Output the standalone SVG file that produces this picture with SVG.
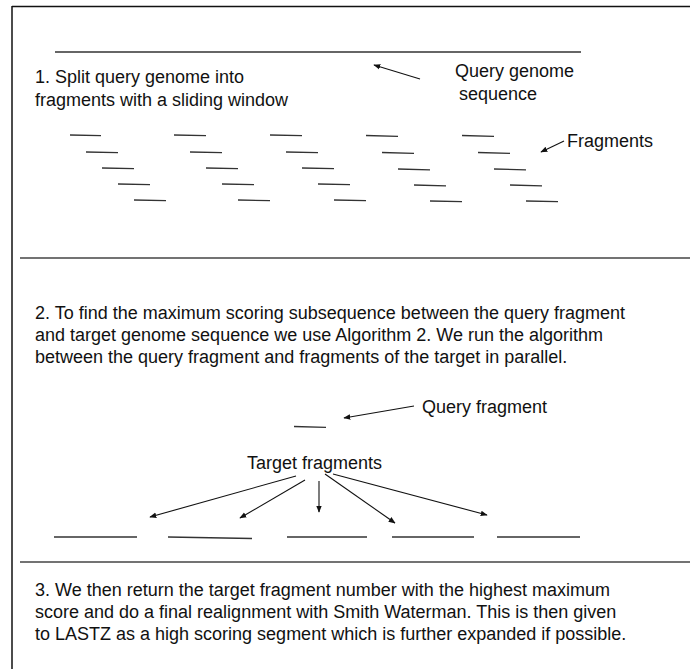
<svg xmlns="http://www.w3.org/2000/svg" width="690" height="669" viewBox="0 0 690 669">
<style>
  .t { font-family: "Liberation Sans", Arial, sans-serif; font-size: 18px; fill: #111; }
  .frame { stroke: #111; stroke-width: 1.5; fill: none; }
  .sep { stroke: #444; stroke-width: 1.5; fill: none; }
  .seg { stroke: #333; stroke-width: 1.3; fill: none; }
  .arr { stroke: #111; stroke-width: 1.1; fill: none; marker-end: url(#ah); }
</style>
<defs>
  <marker id="ah" viewBox="0 0 10 10" refX="9" refY="5" markerWidth="7" markerHeight="7" orient="auto" markerUnits="userSpaceOnUse">
    <path d="M0,1 L10,5 L0,9 z" fill="#111"/>
  </marker>
</defs>
<rect width="690" height="669" fill="#fff"/>
<g id="frame">
  <line class="frame" x1="12" y1="6.5" x2="690" y2="6.5"/>
  <line class="frame" x1="12" y1="6" x2="12" y2="669"/>
  <line class="sep" x1="20" y1="258" x2="690" y2="258"/>
  <line class="sep" x1="20" y1="562" x2="690" y2="562"/>
</g>
<g id="step1">
  <text class="t" x="35" y="83">1. Split query genome into</text>
  <text class="t" x="35" y="106">fragments with a sliding window</text>
</g>
<g id="query-genome">
  <line class="seg" x1="55" y1="52" x2="581" y2="52"/>
  <text class="t" x="455" y="77">Query genome</text>
  <text class="t" x="459" y="100">sequence</text>
</g>
<g id="fragments">
  <g class="seg">
    <line x1="70" y1="135" x2="101" y2="135.6"/><line x1="86" y1="152" x2="118" y2="152.6"/><line x1="102" y1="168" x2="134" y2="168.6"/><line x1="118" y1="184" x2="150" y2="184.6"/><line x1="134" y1="200" x2="166" y2="200.6"/>
    <line x1="174" y1="135" x2="206" y2="135.6"/><line x1="190" y1="152" x2="222" y2="152.6"/><line x1="206" y1="168" x2="238" y2="168.6"/><line x1="222" y1="184" x2="254" y2="184.6"/><line x1="238" y1="200" x2="270" y2="200.6"/>
    <line x1="270" y1="135" x2="302" y2="135.6"/><line x1="286" y1="152" x2="318" y2="152.6"/><line x1="302" y1="168" x2="334" y2="168.6"/><line x1="318" y1="184" x2="350" y2="184.6"/><line x1="334" y1="200" x2="366" y2="200.6"/>
    <line x1="366" y1="135.5" x2="398" y2="136.3"/><line x1="382" y1="152.5" x2="414" y2="153.3"/><line x1="398" y1="169" x2="430" y2="169.8"/><line x1="414" y1="185" x2="446" y2="185.8"/><line x1="430" y1="201" x2="462" y2="201.6"/>
    <line x1="462" y1="135.5" x2="494" y2="136.3"/><line x1="478" y1="152.5" x2="510" y2="153.3"/><line x1="494" y1="169" x2="526" y2="169.8"/><line x1="510" y1="185" x2="542" y2="185.8"/><line x1="526" y1="201" x2="558" y2="201.6"/>
  </g>
  <text class="t" x="567" y="147">Fragments</text>
</g>
<g id="step2">
  <text class="t" x="35" y="319">2. To find the maximum scoring subsequence between the query fragment</text>
  <text class="t" x="35" y="341">and target genome sequence we use Algorithm 2. We run the algorithm</text>
  <text class="t" x="35" y="363">between the query fragment and fragments of the target in parallel.</text>
</g>
<g id="query-fragment">
  <line class="seg" x1="294" y1="426.5" x2="326" y2="427.3"/>
  <text class="t" x="422" y="413">Query fragment</text>
</g>
<g id="target-fragments">
  <text class="t" x="247" y="469">Target fragments</text>
  <g class="seg">
    <line x1="54" y1="537" x2="137" y2="537"/>
    <line x1="168" y1="537" x2="252" y2="538.5"/>
    <line x1="287" y1="537" x2="367" y2="537"/>
    <line x1="392" y1="537" x2="474" y2="537"/>
    <line x1="497" y1="537" x2="580" y2="537"/>
  </g>
</g>
<g id="step3">
  <text class="t" x="35" y="596">3. We then return the target fragment number with the highest maximum</text>
  <text class="t" x="35" y="618">score and do a final realignment with Smith Waterman. This is then given</text>
  <text class="t" x="35" y="640">to LASTZ as a high scoring segment which is further expanded if possible.</text>
</g>
<g id="connectors">
  <line class="arr" x1="420" y1="79" x2="374" y2="65"/>
  <line class="arr" x1="564" y1="141" x2="541" y2="152"/>
  <line class="arr" x1="414" y1="406" x2="344" y2="418"/>
  <line class="arr" x1="296" y1="476" x2="150" y2="517"/>
  <line class="arr" x1="305" y1="480" x2="240" y2="518"/>
  <line class="arr" x1="319" y1="481" x2="319" y2="512"/>
  <line class="arr" x1="325" y1="474" x2="395" y2="523"/>
  <line class="arr" x1="333" y1="474" x2="487" y2="515"/>
</g>
</svg>
